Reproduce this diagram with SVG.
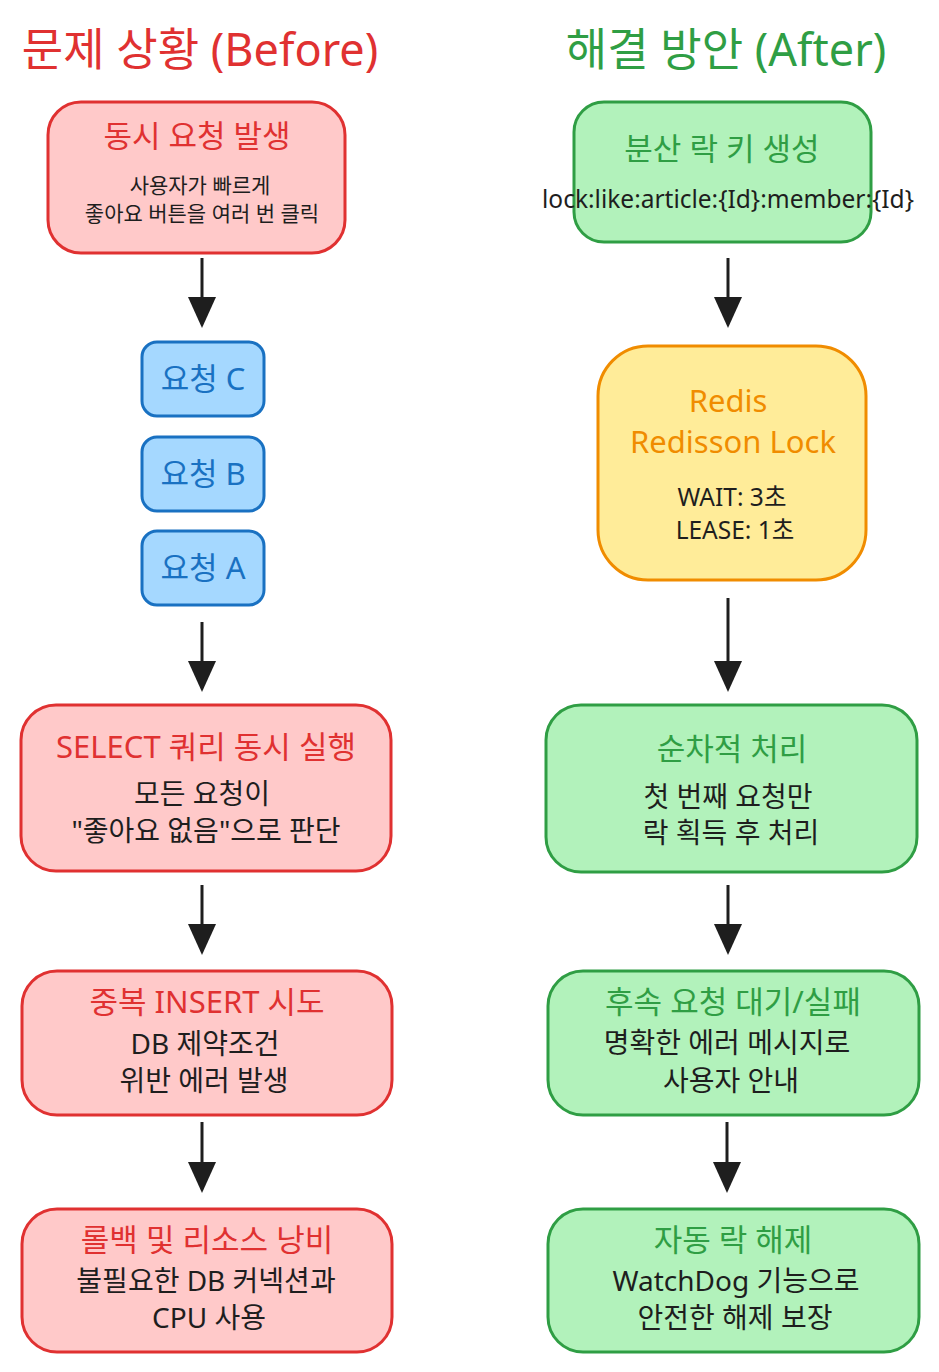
<svg xmlns="http://www.w3.org/2000/svg" width="939" height="1372" viewBox="0 0 939 1372">
<style>
text{font-family:"Noto Sans","Noto Sans CJK KR",sans-serif;text-anchor:middle}
.red rect{fill:#ffc9c9;stroke:#e03131;stroke-width:3}
.grn rect{fill:#b2f2bb;stroke:#2f9e44;stroke-width:3}
.blu rect{fill:#a5d8ff;stroke:#1971c2;stroke-width:3}
.yel rect{fill:#ffec99;stroke:#f08c00;stroke-width:3}
.red .t{fill:#e03131}
.grn .t{fill:#2f9e44}
.blu .t{fill:#1971c2}
.yel .t{fill:#f08c00}
.t{font-size:31px}
.b{fill:#1e1e1e;font-size:28px}
.s{fill:#1e1e1e;font-size:21px}
.m{fill:#1e1e1e;font-size:24.5px}
.h{font-size:45px}
.conn line{stroke:#1e1e1e;stroke-width:3}
</style>
<defs>
<marker id="ah" markerWidth="40" markerHeight="30" refX="0" refY="0" orient="auto" markerUnits="userSpaceOnUse" overflow="visible">
<path d="M-21,-14 L10,0 L-21,14 Z" fill="#1e1e1e"/>
</marker>
</defs>
<rect width="939" height="1372" fill="#ffffff"/>
<text id="title-before" class="h" x="200" y="66" fill="#e03131">문제 상황 (Before)</text>
<text id="title-after" class="h" x="726" y="66" fill="#2f9e44">해결 방안 (After)</text>

<g id="n1" class="red">
<rect x="48" y="102" width="297" height="151" rx="33"/>
<text class="t" x="197" y="147">동시 요청 발생</text>
<text class="s" x="200" y="193">사용자가 빠르게</text>
<text class="s" x="202" y="221">좋아요 버튼을 여러 번 클릭</text>
</g>
<g id="reqC" class="blu">
<rect x="142" y="342" width="122" height="74" rx="15"/>
<text class="t" x="203" y="390">요청 C</text>
</g>
<g id="reqB" class="blu">
<rect x="142" y="437" width="122" height="74" rx="15"/>
<text class="t" x="203" y="485">요청 B</text>
</g>
<g id="reqA" class="blu">
<rect x="142" y="531" width="122" height="74" rx="15"/>
<text class="t" x="203" y="579">요청 A</text>
</g>
<g id="n2" class="red">
<rect x="21" y="705" width="370" height="166" rx="35"/>
<text class="t" x="206" y="758">SELECT 쿼리 동시 실행</text>
<text class="b" x="202" y="804">모든 요청이</text>
<text class="b" x="206" y="841">"좋아요 없음"으로 판단</text>
</g>
<g id="n3" class="red">
<rect x="22" y="971" width="370" height="144" rx="35"/>
<text class="t" x="207" y="1013">중복 INSERT 시도</text>
<text class="b" x="205" y="1054">DB 제약조건</text>
<text class="b" x="204" y="1091">위반 에러 발생</text>
</g>
<g id="n4" class="red">
<rect x="22" y="1209" width="370" height="143" rx="35"/>
<text class="t" x="207" y="1251">롤백 및 리소스 낭비</text>
<text class="b" x="206" y="1291">불필요한 DB 커넥션과</text>
<text class="b" x="209" y="1328">CPU 사용</text>
</g>

<g id="m1" class="grn">
<rect x="574" y="102" width="297" height="140" rx="30"/>
<text class="t" x="722" y="160">분산 락 키 생성</text>
<text class="m" x="728" y="208">lock:like:article:{Id}:member:{Id}</text>
</g>
<g id="m2" class="yel">
<rect x="598" y="346" width="268" height="234" rx="50"/>
<text class="t" x="728" y="412">Redis</text>
<text class="t" x="733" y="453">Redisson Lock</text>
<text class="m" x="732" y="506">WAIT: 3초</text>
<text class="m" x="735" y="539">LEASE: 1초</text>
</g>
<g id="m3" class="grn">
<rect x="546" y="705" width="371" height="167" rx="35"/>
<text class="t" x="732" y="760">순차적 처리</text>
<text class="b" x="728" y="807">첫 번째 요청만</text>
<text class="b" x="731" y="843">락 획득 후 처리</text>
</g>
<g id="m4" class="grn">
<rect x="548" y="971" width="371" height="144" rx="35"/>
<text class="t" x="733" y="1013">후속 요청 대기/실패</text>
<text class="b" x="727" y="1053">명확한 에러 메시지로</text>
<text class="b" x="731" y="1091">사용자 안내</text>
</g>
<g id="m5" class="grn">
<rect x="548" y="1209" width="371" height="143" rx="35"/>
<text class="t" x="733" y="1251">자동 락 해제</text>
<text class="b" x="736" y="1291">WatchDog 기능으로</text>
<text class="b" x="735" y="1328">안전한 해제 보장</text>
</g>

<g id="connectors" class="conn">
<line x1="202" y1="258" x2="202" y2="318" marker-end="url(#ah)"/>
<line x1="202" y1="622" x2="202" y2="682" marker-end="url(#ah)"/>
<line x1="202" y1="885" x2="202" y2="945" marker-end="url(#ah)"/>
<line x1="202" y1="1122" x2="202" y2="1183" marker-end="url(#ah)"/>
<line x1="728" y1="258" x2="728" y2="318" marker-end="url(#ah)"/>
<line x1="728" y1="598" x2="728" y2="682" marker-end="url(#ah)"/>
<line x1="728" y1="885" x2="728" y2="945" marker-end="url(#ah)"/>
<line x1="727" y1="1122" x2="727" y2="1183" marker-end="url(#ah)"/>
</g>
</svg>
